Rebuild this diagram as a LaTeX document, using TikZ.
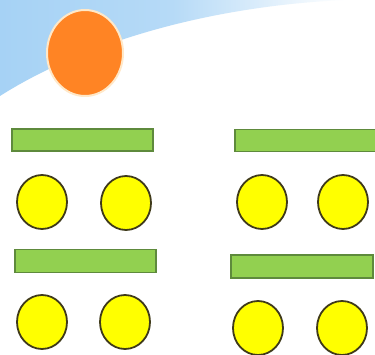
\documentclass[tikz,border=0pt]{standalone}
\usetikzlibrary{shapes.geometric}
\definecolor{skyblue}{HTML}{A6D2F5}
\definecolor{barfill}{HTML}{92D050}
\definecolor{barline}{HTML}{5E8A3C}
\definecolor{ballfill}{HTML}{FFFF00}
\definecolor{ballline}{HTML}{3F3A1A}
\definecolor{sunfill}{HTML}{FF8424}
\definecolor{sunline}{HTML}{FFE8C8}
\begin{document}
\begin{tikzpicture}[x=1pt,y=-1pt,
  bar/.style={draw=barline,line width=1.6pt,fill=barfill,inner sep=0pt,minimum width=#1},
  bar/.default=141pt,
  ball/.style={ellipse,draw=ballline,line width=1.8pt,fill=ballfill,inner sep=0pt,minimum width=50pt,minimum height=54pt},
  sun/.style={ellipse,draw=sunline,line width=2pt,fill=sunfill,inner sep=0pt,minimum width=76pt,minimum height=86pt}]
\useasboundingbox (0,0) rectangle (375,355);
\fill[white] (0,0) rectangle (375,355);
\shade[left color=skyblue,right color=white,middle color=skyblue!82!white] (0,0) -- (345,0) .. controls (210,6) and (85,42) .. (0,96) -- cycle;
\node[sun] (sun) at (85,53) {};
\node[bar,minimum height=22pt] (barA) at (82.5,140) {};
\node[bar=142pt,minimum height=22pt] (barB) at (306,140.5) {};
\node[bar,minimum height=23pt] (barC) at (85.5,261) {};
\node[bar=142pt,minimum height=23pt] (barD) at (302,266.5) {};
\node[ball] (a1) at (42,202) {};
\node[ball] (a2) at (126,203) {};
\node[ball] (b1) at (262,202) {};
\node[ball] (b2) at (343,202) {};
\node[ball] (c1) at (42,322) {};
\node[ball] (c2) at (125,322) {};
\node[ball] (d1) at (258,328) {};
\node[ball] (d2) at (342,328) {};
\end{tikzpicture}
\end{document}
